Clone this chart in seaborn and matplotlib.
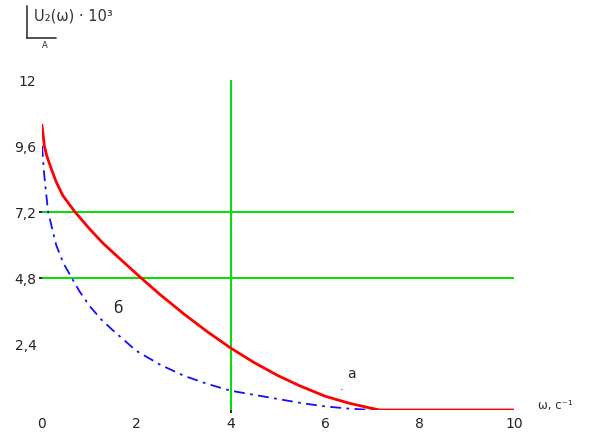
import numpy as np
import pandas as pd
import matplotlib
matplotlib.use("Agg")
import matplotlib.pyplot as plt
import seaborn as sns
from matplotlib.lines import Line2D

# Curve "а" (red, solid)
omega_a = [0.0, 0.05, 0.1, 0.2, 0.3, 0.44, 0.7, 1.0, 1.3, 1.65, 2.1, 2.5, 3.0, 3.5, 4.0,
           4.5, 5.0, 5.46, 6.0, 6.5, 6.88, 7.15, 8.0, 10.0]
u_a = [10.36, 9.6, 9.25, 8.75, 8.3, 7.8, 7.2, 6.6, 6.05, 5.5, 4.8, 4.2, 3.5, 2.85, 2.25,
       1.72, 1.25, 0.88, 0.5, 0.25, 0.1, 0.0, 0.0, 0.0]

# Curve "б" (blue, dash-dot)
omega_b = [0.0, 0.05, 0.13, 0.3, 0.45, 0.63, 0.8, 1.0, 1.25, 1.5, 2.0, 2.5, 3.0, 3.5, 4.0,
           5.0, 5.5, 6.0, 6.5, 7.0]
u_b = [9.6, 8.5, 7.2, 6.0, 5.35, 4.8, 4.3, 3.8, 3.3, 2.9, 2.15, 1.65, 1.25, 0.95, 0.7,
       0.4, 0.25, 0.13, 0.05, 0.0]

# Green marker lines
x_markers = [4]
y_markers = [7.2, 4.8]

x_ticks = [0, 2, 4, 6, 8, 10]
x_labels = ["0", "2", "4", "6", "8", "10"]
y_ticks = [2.4, 4.8, 7.2, 9.6, 12]
y_labels = ["2,4", "4,8", "7,2", "9,6", "12"]

sns.set_style("white")
plt.rcParams['font.family'] = ['DejaVu Sans']

fig = plt.figure(figsize=(5.94, 4.34), dpi=100)
ax = fig.add_axes([42 / 594, 1 - 410 / 434, (514 - 42) / 594, (410 - 80) / 434])

green = "#00e000"
for xm in x_markers:
    ax.plot([xm, xm], [0, 12], color=green, lw=1.4, zorder=1)
for ym in y_markers:
    ax.plot([0, 10], [ym, ym], color=green, lw=1.4, zorder=1)

df_a = pd.DataFrame({"omega": omega_a, "u": u_a})
df_b = pd.DataFrame({"omega": omega_b, "u": u_b})
sns.lineplot(data=df_a, x="omega", y="u", ax=ax, color="#ff0000", lw=2, zorder=3)
sns.lineplot(data=df_b, x="omega", y="u", ax=ax, color="#1010ff", lw=1.3,
             linestyle=(0, (6, 3, 1.5, 3)), zorder=2)

ax.set_xlim(0, 10)
ax.set_ylim(0, 12)
for s in ax.spines.values():
    s.set_visible(False)

ax.set_xticks(x_ticks)
ax.set_xticklabels(x_labels)
ax.set_yticks(y_ticks)
ax.set_yticklabels(y_labels)
ax.tick_params(axis="both", which="major", length=0, labelsize=10, colors="#222222")
ax.tick_params(axis="x", pad=5)
ax.tick_params(axis="y", pad=4)
# small black marks where the marker lines meet the axes
ax.xaxis.remove_overlapping_locs = False
ax.yaxis.remove_overlapping_locs = False
ax.set_xticks(x_markers, minor=True)
ax.set_yticks(y_markers, minor=True)
ax.tick_params(axis="both", which="minor", length=5, width=1.2, color="black",
               direction="inout", bottom=True, left=True)
ax.set_xlabel("")
ax.set_ylabel("")

# curve labels
ax.text(1.61, 3.7, "б", fontsize=11, ha="center", va="center")
ax.text(6.55, 1.3, "а", fontsize=10, ha="center", va="center")
ax.text(6.35, 0.85, ".", fontsize=8, ha="center", va="center")

# axis titles
fig.text(34 / 594, 1 - 16 / 434, "U₂(ω) · 10³",
         fontsize=10.5, ha="left", va="center", color="#333333")
fig.add_artist(Line2D([27 / 594, 27 / 594], [1 - 6 / 434, 1 - 38 / 434], color="#333333", lw=1.2))
fig.add_artist(Line2D([27 / 594, 56 / 594], [1 - 38 / 434, 1 - 38 / 434], color="#333333", lw=1.2))
fig.text(45 / 594, 1 - 45 / 434, "А", fontsize=6, ha="center", va="center")
fig.text(538 / 594, 1 - 406 / 434, "ω, с⁻¹", fontsize=8.5, ha="left", va="center",
         color="#333333")

fig.savefig("out.png", dpi=100)
